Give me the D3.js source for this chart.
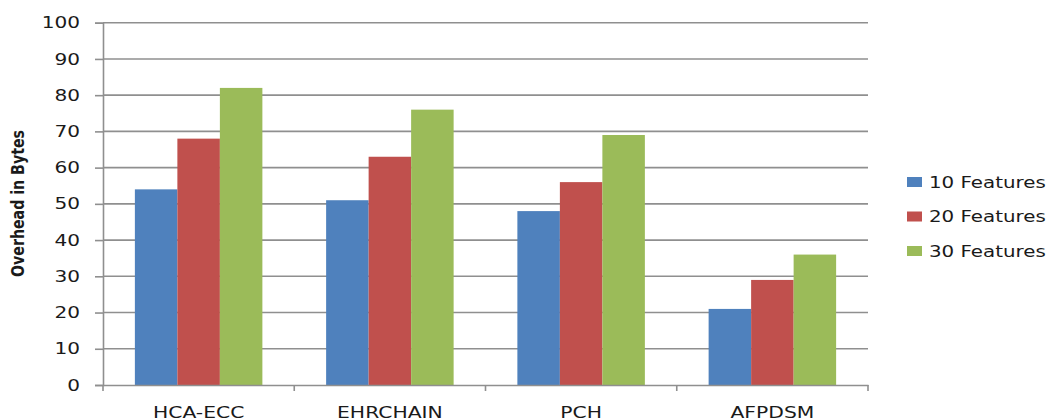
<!DOCTYPE html>
<html>
<head>
<meta charset="utf-8">
<script src="https://cdn.jsdelivr.net/npm/d3@7"></script>
<style>
  html, body { margin: 0; padding: 0; background: #fff; }
  svg { display: block; }
  text { font-family: "DejaVu Sans", Verdana, sans-serif; fill: #1a1a1a; }
</style>
</head>
<body>
<svg id="chart" width="1055" height="420"></svg>
<script>
// Overhead (bytes) per scheme for each feature count
const categories = ["HCA-ECC", "EHRCHAIN", "PCH", "AFPDSM"];
const seriesNames = ["10 Features", "20 Features", "30 Features"];
const features10 = [54, 51, 48, 21];
const features20 = [68, 63, 56, 29];
const features30 = [82, 76, 69, 36];
const yTicks = [0, 10, 20, 30, 40, 50, 60, 70, 80, 90, 100];
const colors = ["#4F81BD", "#C0504D", "#9BBB59"];

const seriesValues = [features10, features20, features30];

const svg = d3.select("#chart");
const plot = { left: 103, right: 868, top: 22.7, bottom: 385 };

const x = d3.scaleBand()
  .domain(categories)
  .range([plot.left, plot.right])
  .paddingInner(0)
  .paddingOuter(0);

// bars fill 3 slots with a 150% gap split around them
const xInner = d3.scaleBand()
  .domain(seriesNames)
  .range([0, x.bandwidth()])
  .paddingOuter(0.75)
  .paddingInner(0);

const y = d3.scaleLinear().domain([0, 100]).range([plot.bottom, plot.top]);

const gridColor = "#8f8f8f";

// horizontal gridlines
svg.append("g")
  .selectAll("line")
  .data(yTicks.filter(d => d > 0))
  .join("line")
  .attr("x1", plot.left).attr("x2", plot.right)
  .attr("y1", d => y(d)).attr("y2", d => y(d))
  .attr("stroke", gridColor).attr("stroke-width", 1.6);

// bars
const groups = svg.append("g")
  .selectAll("g")
  .data(categories)
  .join("g")
  .attr("transform", d => `translate(${x(d)},0)`);

groups.selectAll("rect")
  .data((c, i) => seriesNames.map((s, j) => ({ s, j, v: seriesValues[j][i] })))
  .join("rect")
  .attr("x", d => xInner(d.s))
  .attr("width", xInner.bandwidth())
  .attr("y", d => y(d.v))
  .attr("height", d => y(0) - y(d.v))
  .attr("fill", d => colors[d.j]);

// y axis
const yAxis = svg.append("g")
  .attr("transform", `translate(${plot.left},0)`)
  .call(d3.axisLeft(y).tickValues(yTicks).tickSize(8).tickPadding(0).tickFormat(d3.format("d")));
yAxis.select(".domain").attr("stroke", gridColor).attr("stroke-width", 1.6);
yAxis.selectAll(".tick line").attr("stroke", gridColor).attr("stroke-width", 1.6);
yAxis.selectAll(".tick text")
  .attr("x", null).attr("dy", null)
  .attr("text-anchor", "end")
  .attr("dominant-baseline", "central")
  .attr("font-size", 15)
  .attr("font-family", "DejaVu Sans, Verdana, sans-serif")
  .attr("fill", "#1a1a1a")
  .attr("transform", "translate(-23,0) scale(1.34,1)");

// x axis
const xAxis = svg.append("g")
  .attr("transform", `translate(0,${plot.bottom})`)
  .call(d3.axisBottom(x).tickSize(0).tickPadding(0));
xAxis.select(".domain").attr("stroke", gridColor).attr("stroke-width", 1.6);
xAxis.selectAll(".tick text")
  .attr("y", null).attr("dy", null)
  .attr("font-size", 16)
  .attr("font-family", "DejaVu Sans, Verdana, sans-serif")
  .attr("fill", "#1a1a1a")
  .attr("transform", "translate(0,33) scale(1.27,1)");

// category separators on the x axis
const bounds = categories.map(c => x(c)).concat([plot.right]);
svg.append("g")
  .selectAll("line")
  .data(bounds)
  .join("line")
  .attr("x1", d => d).attr("x2", d => d)
  .attr("y1", plot.bottom).attr("y2", plot.bottom + 6)
  .attr("stroke", gridColor).attr("stroke-width", 1.6);

// y axis title
svg.append("text")
  .attr("transform", `translate(24,${(130 + 277) / 2}) rotate(-90)`)
  .attr("text-anchor", "middle")
  .attr("font-family", "'Liberation Sans Narrow', 'DejaVu Sans Condensed', Arial, sans-serif")
  .attr("font-weight", "bold")
  .attr("font-size", 17)
  .attr("textLength", 147)
  .attr("lengthAdjust", "spacingAndGlyphs")
  .attr("fill", "#000")
  .text("Overhead in Bytes");

// legend
const legend = svg.append("g")
  .selectAll("g")
  .data(seriesNames)
  .join("g")
  .attr("transform", (d, i) => `translate(907,${182 + i * 34.5})`);

legend.append("rect")
  .attr("x", 0).attr("y", -5)
  .attr("width", 15).attr("height", 10)
  .attr("fill", (d, i) => colors[i]);

legend.append("text")
  .attr("transform", "translate(22,0) scale(1.24,1)")
  .attr("dominant-baseline", "central")
  .attr("font-size", 16)
  .text(d => d);
</script>
</body>
</html>
